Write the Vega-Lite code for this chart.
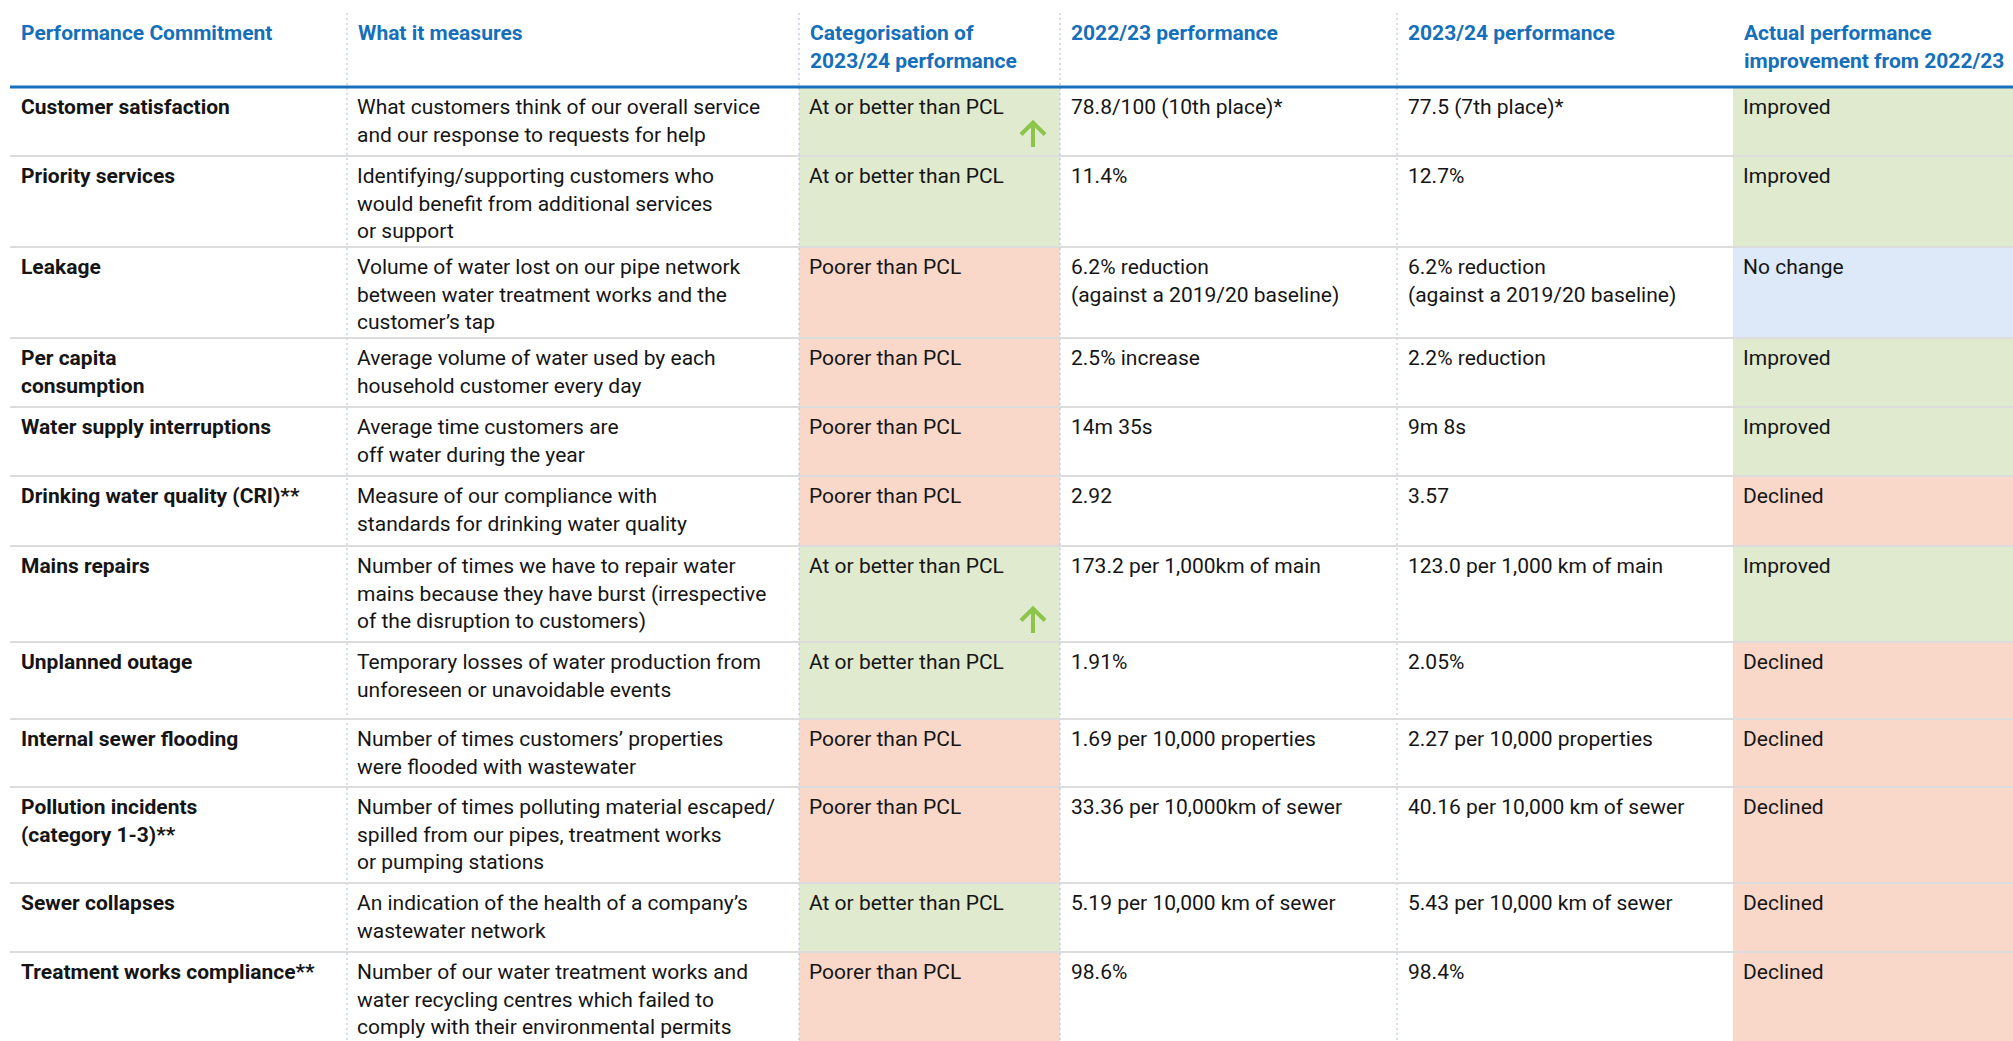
{
  "$schema": "https://vega.github.io/schema/vega-lite/v6.json",
  "width": 2013,
  "height": 1041,
  "autosize": {"type": "none"},
  "padding": 0,
  "background": "white",
  "config": {"view": {"stroke": null}, "font": "Roboto"},
  "datasets": {
    "table": [
      {"r": 0, "r1": 1, "pc": "Customer satisfaction", "what": "What customers think of our overall service\nand our response to requests for help", "cat": "At or better than PCL", "p22": "78.8/100 (10th place)*", "p23": "77.5 (7th place)*", "imp": "Improved", "arrow": "up"},
      {"r": 1, "r1": 2, "pc": "Priority services", "what": "Identifying/supporting customers who\nwould benefit from additional services\nor support", "cat": "At or better than PCL", "p22": "11.4%", "p23": "12.7%", "imp": "Improved", "arrow": ""},
      {"r": 2, "r1": 3, "pc": "Leakage", "what": "Volume of water lost on our pipe network\nbetween water treatment works and the\ncustomer’s tap", "cat": "Poorer than PCL", "p22": "6.2% reduction\n(against a 2019/20 baseline)", "p23": "6.2% reduction\n(against a 2019/20 baseline)", "imp": "No change", "arrow": ""},
      {"r": 3, "r1": 4, "pc": "Per capita\nconsumption", "what": "Average volume of water used by each\nhousehold customer every day", "cat": "Poorer than PCL", "p22": "2.5% increase", "p23": "2.2% reduction", "imp": "Improved", "arrow": ""},
      {"r": 4, "r1": 5, "pc": "Water supply interruptions", "what": "Average time customers are\noff water during the year", "cat": "Poorer than PCL", "p22": "14m 35s", "p23": "9m 8s", "imp": "Improved", "arrow": ""},
      {"r": 5, "r1": 6, "pc": "Drinking water quality (CRI)**", "what": "Measure of our compliance with\nstandards for drinking water quality", "cat": "Poorer than PCL", "p22": "2.92", "p23": "3.57", "imp": "Declined", "arrow": ""},
      {"r": 6, "r1": 7, "pc": "Mains repairs", "what": "Number of times we have to repair water\nmains because they have burst (irrespective\nof the disruption to customers)", "cat": "At or better than PCL", "p22": "173.2 per 1,000km of main", "p23": "123.0 per 1,000 km of main", "imp": "Improved", "arrow": "up"},
      {"r": 7, "r1": 8, "pc": "Unplanned outage", "what": "Temporary losses of water production from\nunforeseen or unavoidable events", "cat": "At or better than PCL", "p22": "1.91%", "p23": "2.05%", "imp": "Declined", "arrow": ""},
      {"r": 8, "r1": 9, "pc": "Internal sewer flooding", "what": "Number of times customers’ properties\nwere flooded with wastewater", "cat": "Poorer than PCL", "p22": "1.69 per 10,000 properties", "p23": "2.27 per 10,000 properties", "imp": "Declined", "arrow": ""},
      {"r": 9, "r1": 10, "pc": "Pollution incidents\n(category 1-3)**", "what": "Number of times polluting material escaped/\nspilled from our pipes, treatment works\nor pumping stations", "cat": "Poorer than PCL", "p22": "33.36 per 10,000km of sewer", "p23": "40.16 per 10,000 km of sewer", "imp": "Declined", "arrow": ""},
      {"r": 10, "r1": 11, "pc": "Sewer collapses", "what": "An indication of the health of a company’s\nwastewater network", "cat": "At or better than PCL", "p22": "5.19 per 10,000 km of sewer", "p23": "5.43 per 10,000 km of sewer", "imp": "Declined", "arrow": ""},
      {"r": 11, "r1": 12, "pc": "Treatment works compliance**", "what": "Number of our water treatment works and\nwater recycling centres which failed to\ncomply with their environmental permits", "cat": "Poorer than PCL", "p22": "98.6%", "p23": "98.4%", "imp": "Declined", "arrow": ""}
    ],
    "headers": [
      {"c": 0, "label": "Performance Commitment"},
      {"c": 1, "label": "What it measures"},
      {"c": 2, "label": "Categorisation of\n2023/24 performance"},
      {"c": 3, "label": "2022/23 performance"},
      {"c": 4, "label": "2023/24 performance"},
      {"c": 5, "label": "Actual performance\nimprovement from 2022/23"}
    ],
    "vlines": [{"c": 1}, {"c": 2}, {"c": 3}, {"c": 4}]
  },
  "layer": [
    {
      "data": {"name": "table"},
      "mark": {"type": "rect"},
      "encoding": {
        "x": {"datum": 2, "type": "quantitative", "scale": {"domain": [0, 1, 2, 3, 4, 5, 6], "range": [10, 347, 799, 1060, 1397, 1733, 2013], "zero": false, "nice": false}, "axis": null},
        "x2": {"datum": 3},
        "y": {"field": "r", "type": "quantitative", "scale": {"domain": [-1, 0, 1, 2, 3, 4, 5, 6, 7, 8, 9, 10, 11, 12], "range": [0, 87, 156, 247, 338, 407, 476, 546, 642, 719, 787, 883, 952, 1041], "zero": false, "nice": false}, "axis": null},
        "y2": {"field": "r1"},
        "color": {"field": "cat", "type": "nominal", "scale": {"domain": ["At or better than PCL", "Poorer than PCL", "Improved", "Declined", "No change"], "range": ["#dfeacf", "#f9d8c9", "#dfeacf", "#f9d8c9", "#dde9f8"]}, "legend": null}
      }
    },
    {
      "data": {"name": "table"},
      "mark": {"type": "rect"},
      "encoding": {
        "x": {"datum": 5, "type": "quantitative"},
        "x2": {"datum": 6},
        "y": {"field": "r", "type": "quantitative"},
        "y2": {"field": "r1"},
        "color": {"field": "imp", "type": "nominal", "legend": null}
      }
    },
    {
      "data": {"name": "vlines"},
      "mark": {"type": "rule", "color": "#b9c6e2", "strokeWidth": 1.2, "strokeDash": [2, 3], "yOffset": 13},
      "encoding": {
        "x": {"field": "c", "type": "quantitative"},
        "y": {"datum": -1, "type": "quantitative"},
        "y2": {"datum": 12}
      }
    },
    {
      "data": {"name": "table"},
      "transform": [{"filter": "datum.r1 < 12"}],
      "mark": {"type": "rule", "color": "#dcdcdc", "strokeWidth": 2},
      "encoding": {
        "x": {"datum": 0, "type": "quantitative"},
        "x2": {"datum": 6},
        "y": {"field": "r1", "type": "quantitative"}
      }
    },
    {
      "data": {"name": "vlines"},
      "transform": [{"filter": "datum.c == 1"}],
      "mark": {"type": "rule", "color": "#1a6fba", "strokeWidth": 3},
      "encoding": {
        "x": {"datum": 0, "type": "quantitative"},
        "x2": {"datum": 6},
        "y": {"datum": 0, "type": "quantitative"}
      }
    },
    {
      "data": {"name": "headers"},
      "mark": {"type": "text", "align": "left", "baseline": "alphabetic", "dx": 11, "dy": 40, "fontSize": 21, "fontWeight": "bold", "color": "#156fba", "lineBreak": "\n", "lineHeight": 28},
      "encoding": {
        "x": {"field": "c", "type": "quantitative"},
        "y": {"datum": -1, "type": "quantitative"},
        "text": {"field": "label"}
      }
    },
    {
      "data": {"name": "table"},
      "mark": {"type": "text", "align": "left", "baseline": "alphabetic", "dx": 11, "dy": 27, "fontSize": 21, "fontWeight": "bold", "color": "#151515", "lineBreak": "\n", "lineHeight": 27.5},
      "encoding": {
        "x": {"datum": 0, "type": "quantitative"},
        "y": {"field": "r", "type": "quantitative"},
        "text": {"field": "pc"}
      }
    },
    {
      "data": {"name": "table"},
      "mark": {"type": "text", "align": "left", "baseline": "alphabetic", "dx": 10, "dy": 27, "fontSize": 21, "color": "#151515", "lineBreak": "\n", "lineHeight": 27.5},
      "encoding": {
        "x": {"datum": 1, "type": "quantitative"},
        "y": {"field": "r", "type": "quantitative"},
        "text": {"field": "what"}
      }
    },
    {
      "data": {"name": "table"},
      "mark": {"type": "text", "align": "left", "baseline": "alphabetic", "dx": 10, "dy": 27, "fontSize": 21, "color": "#151515", "lineBreak": "\n", "lineHeight": 27.5},
      "encoding": {
        "x": {"datum": 2, "type": "quantitative"},
        "y": {"field": "r", "type": "quantitative"},
        "text": {"field": "cat"}
      }
    },
    {
      "data": {"name": "table"},
      "mark": {"type": "text", "align": "left", "baseline": "alphabetic", "dx": 11, "dy": 27, "fontSize": 21, "color": "#151515", "lineBreak": "\n", "lineHeight": 27.5},
      "encoding": {
        "x": {"datum": 3, "type": "quantitative"},
        "y": {"field": "r", "type": "quantitative"},
        "text": {"field": "p22"}
      }
    },
    {
      "data": {"name": "table"},
      "mark": {"type": "text", "align": "left", "baseline": "alphabetic", "dx": 11, "dy": 27, "fontSize": 21, "color": "#151515", "lineBreak": "\n", "lineHeight": 27.5},
      "encoding": {
        "x": {"datum": 4, "type": "quantitative"},
        "y": {"field": "r", "type": "quantitative"},
        "text": {"field": "p23"}
      }
    },
    {
      "data": {"name": "table"},
      "mark": {"type": "text", "align": "left", "baseline": "alphabetic", "dx": 10, "dy": 27, "fontSize": 21, "color": "#151515", "lineBreak": "\n", "lineHeight": 27.5},
      "encoding": {
        "x": {"datum": 5, "type": "quantitative"},
        "y": {"field": "r", "type": "quantitative"},
        "text": {"field": "imp"}
      }
    },
    {
      "data": {"name": "table"},
      "transform": [{"filter": "datum.arrow == 'up'"}],
      "mark": {"type": "point", "shape": "M-2.16,-0.72 L-2.16,-2.68 M-3.12,-1.72 L-2.16,-2.68 L-1.2,-1.72", "size": 625, "filled": false, "stroke": "#8cc54a", "strokeWidth": 4, "strokeCap": "butt", "opacity": 1},
      "encoding": {
        "x": {"datum": 3, "type": "quantitative"},
        "y": {"field": "r1", "type": "quantitative"}
      }
    }
  ]
}
